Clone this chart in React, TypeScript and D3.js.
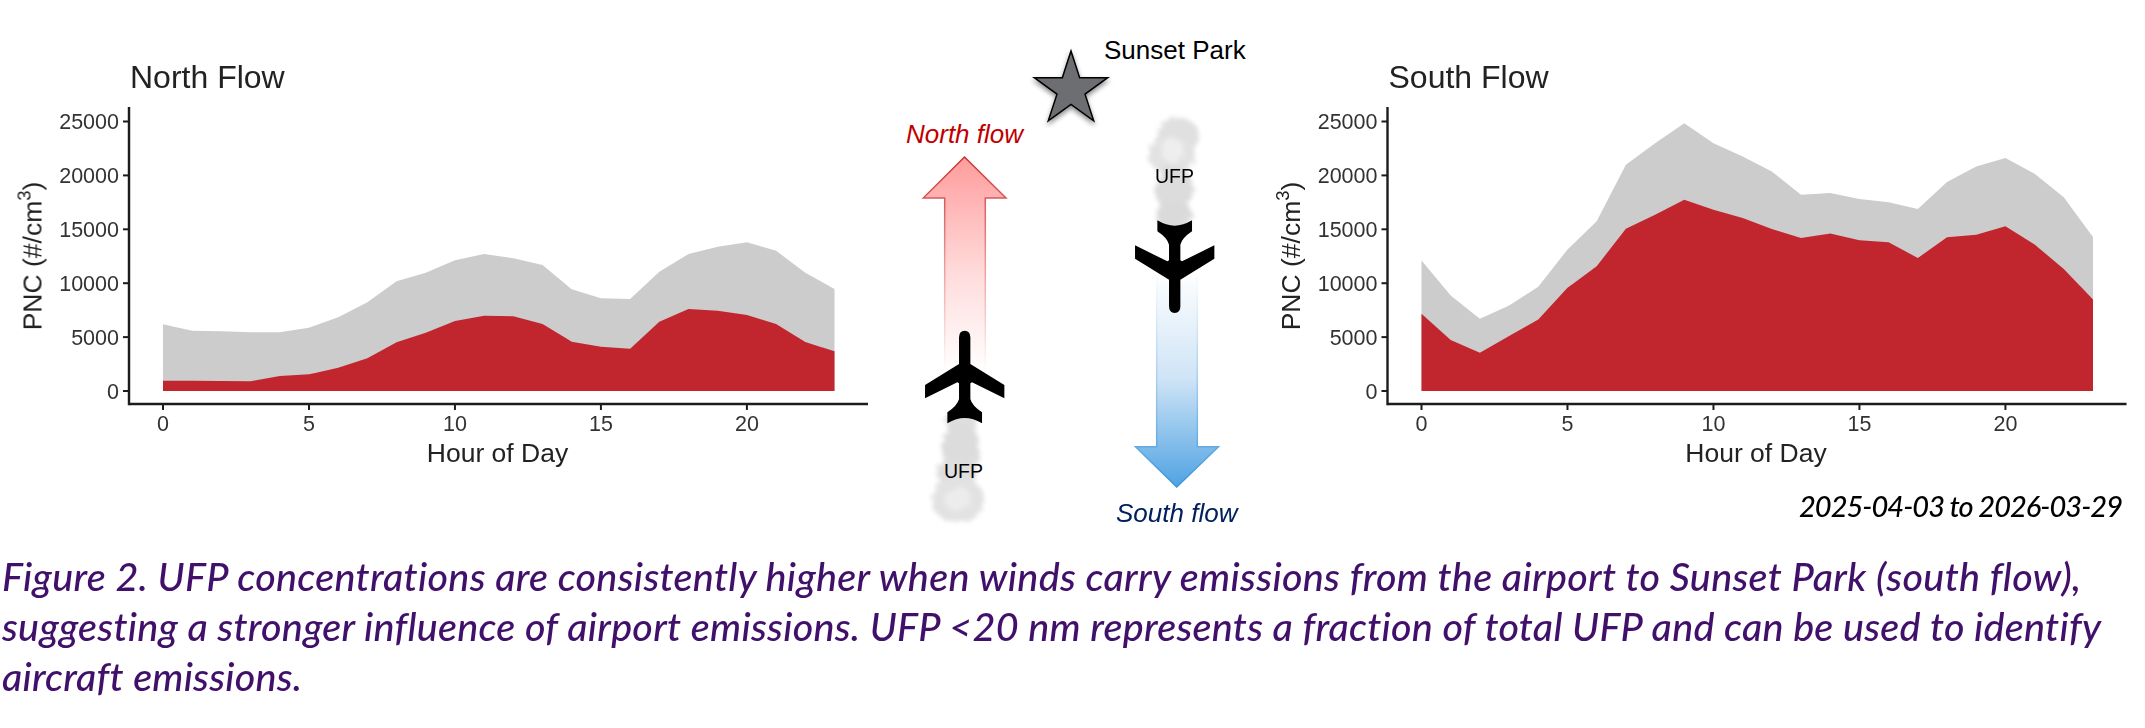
import React from "react";
import * as d3 from "d3";

const hours = d3.range(0, 24);
const northTotal = [6184, 5597, 5535, 5442, 5442, 5875, 6834, 8225, 10173, 10977, 12121, 12709, 12307, 11688, 9431, 8596, 8534, 11070, 12709, 13389, 13791, 13018, 10977, 9462];
const northSmall = [958, 958, 928, 897, 1391, 1546, 2165, 3030, 4514, 5411, 6494, 6988, 6926, 6215, 4576, 4113, 3927, 6432, 7607, 7452, 7050, 6215, 4545, 3680];
const southTotal = [12099, 8858, 6698, 7932, 9660, 13117, 15741, 20988, 22994, 24846, 22994, 21759, 20370, 18210, 18364, 17809, 17500, 16883, 19383, 20833, 21605, 20154, 17963, 14290];
const southSmall = [7160, 4722, 3549, 5093, 6636, 9568, 11574, 15062, 16358, 17747, 16821, 16049, 15031, 14198, 14599, 13981, 13796, 12346, 14259, 14506, 15278, 13580, 11327, 8488];
const xTicks = [0, 5, 10, 15, 20];
const yTicks = [0, 5000, 10000, 15000, 20000, 25000];
const captionLines = [
  "Figure 2. UFP concentrations are consistently higher when winds carry emissions from the airport to Sunset Park (south flow),",
  "suggesting a stronger influence of airport emissions. UFP <20 nm represents a fraction of total UFP and can be used to identify",
  "aircraft emissions.",
];
const dateRange = "2025-04-03 to 2026-03-29";

const SANS = "'Liberation Sans', Arial, sans-serif";

function Panel({ title, left, total, small }: { title: string; left: number; total: number[]; small: number[] }) {
  const axisX = left;
  const x = d3.scaleLinear().domain([0, 23]).range([left + 34, left + 34 + 671.5]);
  const y = d3.scaleLinear().domain([0, 25000]).range([391, 121.5]);
  const area = (v: number[]) =>
    d3.area<number>().x((h) => x(h)).y0(y(0)).y1((h) => y(v[h]))(hours) as string;
  const axisY = 404;
  const right = left + 739;
  const ink = "#1c1c1c";
  return (
    <g fontFamily={SANS} filter="url(#soft)">
      <text x={left + 1} y={88} fontSize={32} fill="#222">{title}</text>
      <path d={area(total)} fill="#cccccc" />
      <path d={area(small)} fill="#c1272d" />
      <line x1={axisX} x2={axisX} y1={107} y2={axisY + 1.2} stroke={ink} strokeWidth={2.4} />
      <line x1={axisX} x2={right} y1={axisY} y2={axisY} stroke={ink} strokeWidth={2.4} />
      {yTicks.map((t) => (
        <g key={t}>
          <line x1={axisX - 6} x2={axisX} y1={y(t)} y2={y(t)} stroke={ink} strokeWidth={2} />
          <text x={axisX - 10} y={y(t) + 7.7} fontSize={21.5} textAnchor="end" fill="#333">{t}</text>
        </g>
      ))}
      {xTicks.map((t) => (
        <g key={t}>
          <line x1={x(t)} x2={x(t)} y1={axisY} y2={axisY + 6} stroke={ink} strokeWidth={2} />
          <text x={x(t)} y={431} fontSize={21.5} textAnchor="middle" fill="#333">{t}</text>
        </g>
      ))}
      <text x={(left + right) / 2 - 1} y={462} fontSize={26.5} textAnchor="middle" fill="#222">Hour of Day</text>
      <text transform={`translate(${left - 87.5},256) rotate(-90)`} fontSize={26.5} textAnchor="middle" fill="#222">
        PNC (#/cm<tspan fontSize={18.5} dy={-11}>3</tspan><tspan dy={11}>)</tspan>
      </text>
    </g>
  );
}

const planePath =
  "M-17,20 Q-17,0 0,0 Q17,0 17,20 L17,100 L119,163 L119,203 L22,155 L17,158 L17,205 Q22,225 52,245 L52,278 Q25,262 0,262 Q-25,262 -52,278 L-52,245 Q-22,225 -17,205 L-17,158 L-22,155 L-119,203 L-119,163 L-17,100 Z";

function Plane({ cx, top, flip }: { cx: number; top: number; flip?: boolean }) {
  return (
    <path
      d={planePath}
      fill="#000"
      filter="url(#softPlane)"
      transform={flip ? `translate(${cx},${top}) rotate(180) scale(0.3333)` : `translate(${cx},${top}) scale(0.3333)`}
    />
  );
}

function Smoke({ blobs }: { blobs: [number, number, number, number, string][] }) {
  return (
    <g filter="url(#smoke)">
      {blobs.map(([cx, cy, rx, ry, c], i) => (
        <ellipse key={i} cx={cx} cy={cy} rx={rx} ry={ry} fill={c} />
      ))}
    </g>
  );
}

function star(cx: number, cy: number, R: number) {
  const pts: string[] = [];
  for (let i = 0; i < 10; i++) {
    const r = i % 2 ? R * 0.382 : R;
    const a = -Math.PI / 2 + (i * Math.PI) / 5;
    pts.push(`${cx + r * Math.cos(a)},${cy + r * Math.sin(a)}`);
  }
  return pts.join(" ");
}

export default function App() {
  return (
    <svg width={2145} height={728} style={{ position: "fixed", left: 0, top: 0, display: "block", background: "#fff" }}>
      <defs>
        <filter id="soft" x="-5%" y="-5%" width="110%" height="110%">
          <feGaussianBlur stdDeviation="0.55" />
        </filter>
        <filter id="softPlane" x="-5%" y="-5%" width="110%" height="110%">
          <feGaussianBlur stdDeviation="1.5" />
        </filter>
        <filter id="smoke" x="-40%" y="-30%" width="180%" height="160%">
          <feTurbulence type="fractalNoise" baseFrequency="0.16" numOctaves="4" seed="7" result="n" />
          <feDisplacementMap in="SourceGraphic" in2="n" scale="9" />
          <feGaussianBlur stdDeviation="1.9" />
        </filter>
        <filter id="starShadow" x="-30%" y="-30%" width="160%" height="160%">
          <feDropShadow dx="0" dy="3" stdDeviation="2.5" floodColor="#000" floodOpacity="0.45" />
        </filter>
        <linearGradient id="upFill" x1="0" y1="0" x2="0" y2="1">
          <stop offset="0" stopColor="#ff9c9c" />
          <stop offset="0.55" stopColor="#ffdcdc" />
          <stop offset="1" stopColor="#ffffff" />
        </linearGradient>
        <linearGradient id="upStroke" x1="0" y1="0" x2="0" y2="1">
          <stop offset="0" stopColor="#c8322d" />
          <stop offset="0.5" stopColor="#ee9a9a" />
          <stop offset="1" stopColor="#ffffff" />
        </linearGradient>
        <linearGradient id="downFill" x1="0" y1="0" x2="0" y2="1">
          <stop offset="0" stopColor="#ffffff" />
          <stop offset="0.5" stopColor="#cfe4f6" />
          <stop offset="1" stopColor="#4fa3e3" />
        </linearGradient>
        <linearGradient id="downStroke" x1="0" y1="0" x2="0" y2="1">
          <stop offset="0" stopColor="#ffffff" />
          <stop offset="0.5" stopColor="#a9d0ee" />
          <stop offset="1" stopColor="#3a93d8" />
        </linearGradient>
      </defs>

      <Panel title="North Flow" left={129} total={northTotal} small={northSmall} />
      <Panel title="South Flow" left={1387.5} total={southTotal} small={southSmall} />

      <polygon
        points={star(1071, 89.6, 38.6)}
        fill="#6d6e71"
        stroke="#000"
        strokeWidth={1.5}
        filter="url(#starShadow)"
      />
      <text x={1104} y={59} fontFamily={SANS} fontSize={26} fill="#000">Sunset Park</text>

      <text x={906} y={143} fontFamily={SANS} fontStyle="italic" fontSize={26} fill="#c00000">North flow</text>
      <path
        d="M964.5,157 L1006,198 L985.3,198 L985.3,372 L944.7,372 L944.7,198 L923.3,198 Z"
        fill="url(#upFill)"
        stroke="url(#upStroke)"
        strokeWidth={1.5}
      />
      <Smoke
        blobs={[
          [961, 424, 16, 14, "#dedede"],
          [961, 448, 19, 24, "#dcdcdc"],
          [957, 472, 21, 14, "#dedede"],
          [958, 500, 26, 23, "#e2e2e2"],
          [958, 499, 13, 12, "#ececec"],
        ]}
      />
      <Plane cx={964.7} top={330.7} />
      <text x={944} y={477.5} fontFamily={SANS} fontSize={19.5} fill="#000">UFP</text>

      <path
        d="M1176.7,487 L1218.5,446.7 L1197.3,446.7 L1197.3,270 L1156.7,270 L1156.7,446.7 L1135.5,446.7 Z"
        fill="url(#downFill)"
        stroke="url(#downStroke)"
        strokeWidth={1.5}
      />
      <Smoke
        blobs={[
          [1178, 135, 21, 17, "#e0e0e0"],
          [1172, 155, 24, 19, "#e2e2e2"],
          [1172, 150, 11, 12, "#eeeeee"],
          [1174, 190, 19, 24, "#dcdcdc"],
          [1174, 215, 18, 14, "#dadada"],
        ]}
      />
      <Plane cx={1174.7} top={313} flip />
      <text x={1155} y={182.7} fontFamily={SANS} fontSize={19.5} fill="#000">UFP</text>
      <text x={1116} y={521.7} fontFamily={SANS} fontStyle="italic" fontSize={26} fill="#002060">South flow</text>

      <text x={1799} y={517} fontFamily="Lato, sans-serif" fontStyle="italic" fontWeight={500} fontSize={29} textLength={324} fill="#000">{dateRange}</text>

      <g fontFamily="Lato, sans-serif" fontStyle="italic" fontWeight={500} fontSize={39.5} fill="#40106a" style={{ fontVariantLigatures: "none" }}>
        <text x={2} y={590.7} textLength={2079}>{captionLines[0]}</text>
        <text x={2} y={641.3} textLength={2099}>{captionLines[1]}</text>
        <text x={2} y={691.3} textLength={300}>{captionLines[2]}</text>
      </g>
    </svg>
  );
}
